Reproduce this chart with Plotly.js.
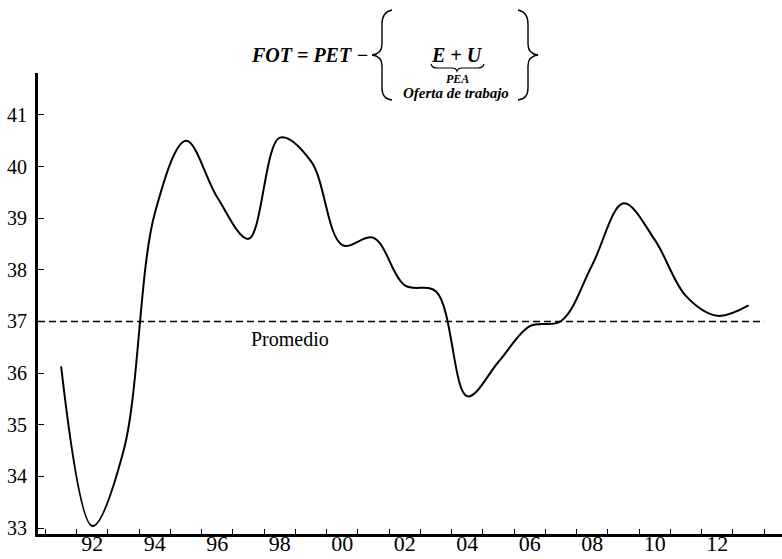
<!DOCTYPE html>
<html>
<head>
<meta charset="utf-8">
<script src="https://cdn.plot.ly/plotly-3.0.1.min.js"></script>
<style>html,body{margin:0;padding:0;background:#fff;}#chart{width:782px;height:559px;}</style>
</head>
<body>
<div id="chart"></div>
<script>
// Data (annual)
var years = [1991,1992,1993,1994,1995,1996,1997,1998,1999,2000,2001,2002,2003,2004,2005,2006,2007,2008,2009,2010,2011,2012,2013];
var fot = [36.13,33.04,34.50,39.10,40.50,39.40,38.60,40.56,40.10,38.48,38.62,37.70,37.58,35.55,36.22,36.91,37.01,38.10,39.29,38.58,37.49,37.11,37.31];
var promedio = 37.0;
var yTicks = [33,34,35,36,37,38,39,40,41];
var xLabelYears = [1992,1994,1996,1998,2000,2002,2004,2006,2008,2010,2012];
var xLabels = ["92","94","96","98","00","02","04","06","08","10","12"];
var promedioLabel = "Promedio";

var xRange = [1990.26, 2014.07];
var yRange = [32.884, 41.812];
var boundaries = [];
for (var b = 1990.5; b <= 2013.5; b += 1) boundaries.push(b);

var M = {l:38, r:0, t:73, b:25};
var W = 782, H = 559;
var pw = W - M.l - M.r, ph = H - M.t - M.b;
function px(x){ return (x - M.l)/pw; }
function py(y){ return (H - M.b - y)/ph; }
function P(x,y){ return px(x).toFixed(5)+','+py(y).toFixed(5); }

var serif = "'Liberation Serif', 'Times New Roman', serif";

var traces = [
  {x: years, y: fot, type:'scatter', mode:'lines', line:{color:'#000', width:2, shape:'spline', smoothing:1}, hoverinfo:'skip', showlegend:false},
  {x: [xRange[0], 2013.5], y: [promedio, promedio], xaxis:'x2', type:'scatter', mode:'lines', line:{color:'#000', width:1.4, dash:'7px,4px'}, hoverinfo:'skip', showlegend:false}
];

var leftBrace = 'M '+P(392,10)+' Q '+P(382,12)+' '+P(382,24)+' L '+P(382,44)+' Q '+P(382,54)+' '+P(372,55)+' Q '+P(382,56)+' '+P(382,66)+' L '+P(382,88)+' Q '+P(382,99)+' '+P(392,100);
var rightBrace = 'M '+P(518,10)+' Q '+P(528,12)+' '+P(528,24)+' L '+P(528,44)+' Q '+P(528,54)+' '+P(538,55)+' Q '+P(528,56)+' '+P(528,66)+' L '+P(528,88)+' Q '+P(528,99)+' '+P(518,100);
var underBrace = 'M '+P(431,64)+' Q '+P(432,68)+' '+P(437,68)+' L '+P(452,68)+' Q '+P(456,68)+' '+P(457,71)+' Q '+P(458,68)+' '+P(462,68)+' L '+P(478,68)+' Q '+P(483,68)+' '+P(484,64);

var layout = {
  width: W, height: H,
  margin: M,
  paper_bgcolor:'#fff', plot_bgcolor:'#fff',
  showlegend:false,
  font:{family:serif, color:'#000'},
  xaxis: {range:xRange, tickvals:boundaries, ticks:'inside', ticklen:5, tickwidth:1, tickcolor:'#000', showticklabels:false,
          showgrid:false, zeroline:false, showline:true, linecolor:'#000', linewidth:3, fixedrange:true},
  xaxis2: {range:xRange, overlaying:'x', anchor:'free', position:0.013, side:'bottom', tickvals:xLabelYears, ticktext:xLabels, ticks:'',
           showgrid:false, zeroline:false, showline:false, tickfont:{family:serif, size:22, color:'#000'}, fixedrange:true},
  yaxis: {range:yRange, tickvals:yTicks, ticks:'inside', ticklen:6, tickwidth:1, tickcolor:'#000', showgrid:false, zeroline:false,
          showline:true, linecolor:'#000', linewidth:3, tickfont:{family:serif, size:20, color:'#000'}, ticklabelstandoff:4, fixedrange:true},
  annotations: [
    {x:1998.33, y:36.67, xref:'x', yref:'y', text:promedioLabel, showarrow:false, xanchor:'center', yanchor:'middle', font:{family:serif, size:20, color:'#000'}},
    {x:px(370), y:py(55), xref:'paper', yref:'paper', text:'<b><i>FOT = PET −</i></b>', showarrow:false, xanchor:'right', yanchor:'middle', font:{family:serif, size:20, color:'#000'}},
    {x:px(457), y:py(55), xref:'paper', yref:'paper', text:'<b><i>E + U</i></b>', showarrow:false, xanchor:'center', yanchor:'middle', font:{family:serif, size:20, color:'#000'}},
    {x:px(457), y:py(79), xref:'paper', yref:'paper', text:'<b><i>PEA</i></b>', showarrow:false, xanchor:'center', yanchor:'middle', font:{family:serif, size:12, color:'#000'}},
    {x:px(456), y:py(93), xref:'paper', yref:'paper', text:'<b><i>Oferta de trabajo</i></b>', showarrow:false, xanchor:'center', yanchor:'middle', font:{family:serif, size:15, color:'#000'}}
  ],
  shapes: [
    {type:'path', xref:'paper', yref:'paper', path:leftBrace, line:{color:'#000', width:1.4}},
    {type:'path', xref:'paper', yref:'paper', path:rightBrace, line:{color:'#000', width:1.4}},
    {type:'path', xref:'paper', yref:'paper', path:underBrace, line:{color:'#000', width:1.2}}
  ]
};

Plotly.newPlot('chart', traces, layout, {staticPlot:true, displayModeBar:false});
</script>
</body>
</html>
